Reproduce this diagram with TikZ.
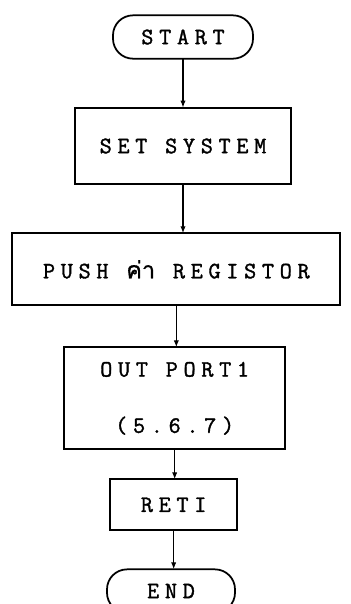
\documentclass[tikz,border=0pt]{standalone}
\usepackage{fontspec}
\setmonofont[LetterSpace=24.5, FakeBold=1.5]{Latin Modern Mono}
\newfontfamily\thaifont[Script=Thai, FakeBold=1]{Loma}
\usetikzlibrary{positioning, arrows.meta}

\begin{document}
\begin{tikzpicture}[
        x=0.03cm, y=-0.03cm,
        box/.style={draw, line width=1.5pt, minimum width=6.5cm, minimum height=2.3cm,
                    align=center, font=\ttfamily\fontsize{20}{24}\selectfont,
                    inner sep=0pt, outer sep=0pt},
        term/.style={box, rounded corners=0.6cm, minimum width=4.2cm, minimum height=1.3cm},
        arr/.style={-{Latex[length=6pt, width=4.5pt]}, line width=1.1pt}
    ]
    \useasboundingbox (0,0) rectangle (350,604);

    \node[term] (start) at (183,37) {START};
    \node[box, below=1.47cm of start] (setsys) {SET SYSTEM};
    \node[box, minimum width=9.84cm, minimum height=2.16cm,
          below=1.47cm of setsys, xshift=-0.2cm] (push) {PUSH {\thaifont ค่า} REGISTOR};
    \node[box, minimum width=6.63cm, minimum height=3.06cm,
          below=1.26cm of push, xshift=-0.05cm] (outport) {OUT PORT1\\[24pt](5.6.7)};
    \node[box, minimum width=3.81cm, minimum height=1.53cm,
          below=0.9cm of outport, xshift=-0.03cm] (reti) {RETI};
    \node[term, minimum width=3.84cm, below=1.17cm of reti, xshift=-0.08cm] (endn) {END};

    \draw[arr] (start.south) -- (start.south |- setsys.north);
    \draw[arr] (setsys.south) -- (setsys.south |- push.north);
    \draw[arr] (push.south) -- (push.south |- outport.north);
    \draw[arr] (outport.south) -- (outport.south |- reti.north);
    \draw[arr] (reti.south) -- (reti.south |- endn.north);
\end{tikzpicture}
\end{document}
